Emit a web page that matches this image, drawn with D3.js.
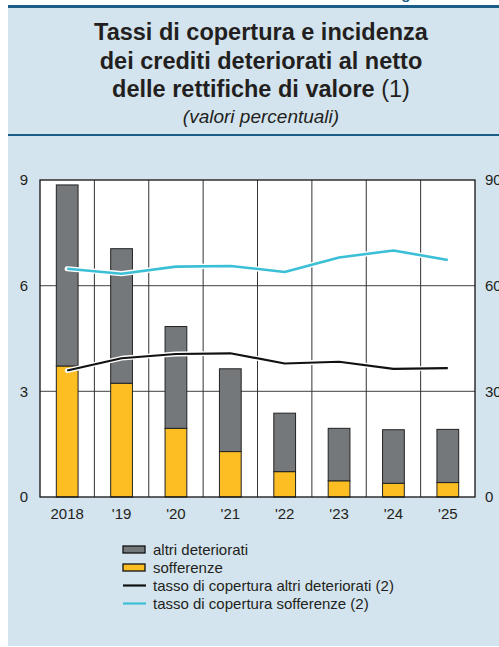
<!DOCTYPE html>
<html>
<head>
<meta charset="utf-8">
<script src="https://cdn.jsdelivr.net/npm/d3@7"></script>
<style>
  body { margin: 0; background: #fff; }
  svg { display: block; font-family: "Liberation Sans", Arial, sans-serif; }
</style>
</head>
<body>
<svg id="chart" width="499" height="647"></svg>
<script>
// dati
var anni = ["2018", "'19", "'20", "'21", "'22", "'23", "'24", "'25"];
var sofferenze = [3.72, 3.23, 1.95, 1.29, 0.72, 0.46, 0.39, 0.41];
var altriDeteriorati = [5.14, 3.82, 2.89, 2.35, 1.66, 1.49, 1.52, 1.51];
var coperturaAltri = [35.9, 39.4, 40.6, 40.8, 37.9, 38.4, 36.4, 36.6];
var coperturaSofferenze = [64.8, 63.4, 65.4, 65.6, 63.9, 68.0, 70.0, 67.3];
var ticksSx = [0, 3, 6, 9];
var ticksDx = [0, 30, 60, 90];

var svg = d3.select("#chart");
var blu = "#1b5d86", sfondo = "#d3e4ee";
var grigio = "#75787b", giallo = "#fdbe23", ciano = "#3bbfd6";

// pannello
svg.append("rect").attr("x", 8).attr("y", 6).attr("width", 491).attr("height", 640).attr("fill", sfondo);
svg.append("rect").attr("x", 8).attr("y", 5).attr("width", 491).attr("height", 3).attr("fill", blu);
svg.append("rect").attr("x", 8).attr("y", 134).attr("width", 491).attr("height", 2).attr("fill", blu);
svg.append("text").attr("x", 388).attr("y", -1).attr("fill", blu)
  .attr("font-size", 15).attr("font-weight", "bold").text("Figura 3.6");

// titolo
var titolo = svg.append("g").attr("text-anchor", "middle").attr("fill", "#231f20");
var righe = ["Tassi di copertura e incidenza", "dei crediti deteriorati al netto"];
righe.forEach(function(t, i) {
  titolo.append("text").attr("x", 261).attr("y", 40 + i * 28.5)
    .attr("font-size", 23.5).attr("font-weight", "bold").text(t);
});
var r3 = titolo.append("text").attr("x", 261).attr("y", 97).attr("font-size", 23.5);
r3.append("tspan").attr("font-weight", "bold").text("delle rettifiche di valore ");
r3.append("tspan").text("(1)");
titolo.append("text").attr("x", 261).attr("y", 123).attr("font-size", 19)
  .attr("font-style", "italic").text("(valori percentuali)");

// area del grafico
var x0 = 40, x1 = 475, yTop = 180, yBot = 497;
var x = d3.scaleBand().domain(anni).range([x0, x1]);
var y = d3.scaleLinear().domain([0, 9]).range([yBot, yTop]);
var y2 = d3.scaleLinear().domain([0, 90]).range([yBot, yTop]);

svg.append("rect").attr("x", x0).attr("y", yTop).attr("width", x1 - x0).attr("height", yBot - yTop).attr("fill", "#fff");

// griglia orizzontale
svg.append("g").selectAll("line").data(ticksSx.slice(1, 3)).enter().append("line")
  .attr("x1", x0).attr("x2", x1)
  .attr("y1", function(d){ return y(d); }).attr("y2", function(d){ return y(d); })
  .attr("stroke", "#666").attr("stroke-width", 1.2);

// separatori verticali
svg.append("g").selectAll("line").data(anni.slice(1)).enter().append("line")
  .attr("x1", function(d){ return x(d); }).attr("x2", function(d){ return x(d); })
  .attr("y1", yTop).attr("y2", yBot)
  .attr("stroke", "#333").attr("stroke-width", 1);

// barre impilate
var serie = d3.stack().keys(["sofferenze", "altri"])(anni.map(function(a, i) {
  return { anno: a, sofferenze: sofferenze[i], altri: altriDeteriorati[i] };
}));
var colori = { sofferenze: giallo, altri: grigio };
var bw = x.bandwidth() * 0.4;
svg.append("g").selectAll("g").data(serie).enter().append("g")
  .attr("fill", function(d){ return colori[d.key]; })
  .selectAll("rect").data(function(d){ return d; }).enter().append("rect")
  .attr("x", function(d){ return x(d.data.anno) + (x.bandwidth() - bw) / 2; })
  .attr("width", bw)
  .attr("y", function(d){ return y(d[1]); })
  .attr("height", function(d){ return y(d[0]) - y(d[1]); })
  .attr("stroke", "#222").attr("stroke-width", 1);

// linee con alone bianco
var linea = d3.line()
  .x(function(d, i){ return x(anni[i]) + x.bandwidth() / 2; })
  .y(function(d){ return y2(d); });
[[coperturaAltri, "#111", 2.2], [coperturaSofferenze, ciano, 2.6]].forEach(function(s) {
  svg.append("path").attr("d", linea(s[0])).attr("fill", "none")
    .attr("stroke", "#fff").attr("stroke-width", s[2] + 2.6).attr("stroke-linejoin", "round").attr("stroke-linecap", "round");
  svg.append("path").attr("d", linea(s[0])).attr("fill", "none")
    .attr("stroke", s[1]).attr("stroke-width", s[2]).attr("stroke-linejoin", "round");
});

// cornice
svg.append("rect").attr("x", x0).attr("y", yTop).attr("width", x1 - x0).attr("height", yBot - yTop)
  .attr("fill", "none").attr("stroke", "#111").attr("stroke-width", 1.3);

// assi
var axSx = svg.append("g").attr("transform", "translate(" + x0 + ",0)")
  .call(d3.axisLeft(y).tickValues(ticksSx).tickSize(0).tickPadding(12));
var axDx = svg.append("g").attr("transform", "translate(" + x1 + ",0)")
  .call(d3.axisRight(y2).tickValues(ticksDx).tickSize(0).tickPadding(10));
var axX = svg.append("g").attr("transform", "translate(0," + yBot + ")")
  .call(d3.axisBottom(x).tickSize(0).tickPadding(11));
[axSx, axDx, axX].forEach(function(a) {
  a.select(".domain").remove();
  a.selectAll("text").attr("font-size", 15).attr("fill", "#231f20")
    .attr("font-family", "Liberation Sans, Arial, sans-serif");
});

// legenda
var voci = [
  { nome: "altri deteriorati", tipo: "rect", col: grigio },
  { nome: "sofferenze", tipo: "rect", col: giallo },
  { nome: "tasso di copertura altri deteriorati (2)", tipo: "line", col: "#111" },
  { nome: "tasso di copertura sofferenze (2)", tipo: "line", col: ciano }
];
var leg = svg.append("g").selectAll("g").data(voci).enter().append("g")
  .attr("transform", function(d, i){ return "translate(123," + (549.5 + i * 18) + ")"; });
leg.filter(function(d){ return d.tipo == "rect"; }).append("rect")
  .attr("x", 0).attr("y", -3.5).attr("width", 22).attr("height", 7)
  .attr("fill", function(d){ return d.col; }).attr("stroke", "#111").attr("stroke-width", 1.3);
leg.filter(function(d){ return d.tipo == "line"; }).append("line")
  .attr("x1", 0).attr("x2", 23).attr("y1", 0).attr("y2", 0)
  .attr("stroke", function(d){ return d.col; }).attr("stroke-width", 2.2);
leg.append("text").attr("x", 30).attr("y", 5).attr("font-size", 15).attr("fill", "#231f20")
  .text(function(d){ return d.nome; });
</script>
</body>
</html>
